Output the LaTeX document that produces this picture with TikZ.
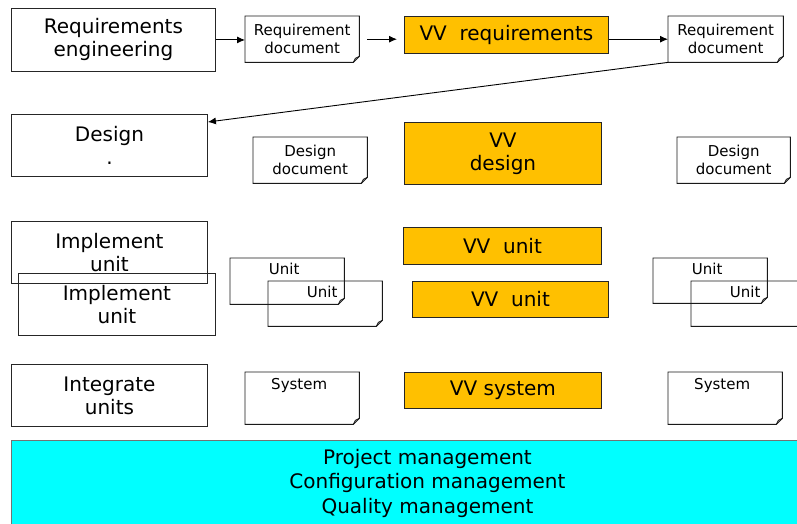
\documentclass[tikz,border=0pt]{standalone}
\usepackage{fontspec}
\setmainfont{DejaVu Sans}
\usetikzlibrary{arrows.meta}
\definecolor{vvorange}{HTML}{FFC000}
\definecolor{pmcyan}{HTML}{00FFFF}
\newcommand\notebox[1]{%
  \draw[noteline] (#1.north west) -- (#1.north east) -- ([yshift=6pt]#1.south east)
    -- ([xshift=-6pt]#1.south east) -- (#1.south west) -- cycle;
  \draw[noteline] ([yshift=6pt]#1.south east) -- ([xshift=-4pt,yshift=4pt]#1.south east)
    -- ([xshift=-6pt]#1.south east);}
\begin{document}
\begin{tikzpicture}[x=1pt,y=-1pt,
  big/.style={font=\fontsize{20}{23}\selectfont},
  small/.style={font=\fontsize{15}{18}\selectfont},
  box/.style={draw=black!85, line width=0.9pt, inner sep=0pt, anchor=north west, align=center, big},
  vvbox/.style={box, fill=vvorange},
  note/.style={inner sep=0pt, anchor=north west, align=center, small},
  noteline/.style={draw=black!90, line width=0.9pt},
  toplabel/.style={label={[anchor=north, small, yshift=-2pt, xshift=-3pt]north:#1}},
  arr/.style={draw=black, line width=0.9pt, -{Latex[length=8pt,width=7pt]}}]
\useasboundingbox (0,0) rectangle (797,524);
\clip (0,0) rectangle (797,524);
\fill[white] (0,0) rectangle (797,524);

% row 1
\node[box, minimum width=204pt, minimum height=63pt] (re) at (11,8) {Requirements\\engineering};
\node[note, minimum width=114pt, minimum height=46pt] (rd1) at (245,16) {Requirement\\document};
\notebox{rd1}
\node[vvbox, minimum width=204pt, minimum height=37pt] (vvr) at (404,16) {VV\ \ requirements};
\node[note, minimum width=115pt, minimum height=46pt] (rd2) at (668,16) {Requirement\\document};
\notebox{rd2}

% row 2
\node[box, minimum width=196pt, minimum height=62pt] (des) at (11,114) {Design\\.};
\node[note, minimum width=114pt, minimum height=46pt] (dd1) at (253,137) {Design\\document};
\notebox{dd1}
\node[vvbox, minimum width=197pt, minimum height=62pt] (vvd) at (404,122) {VV\\design};
\node[note, minimum width=113pt, minimum height=46pt] (dd2) at (677,137) {Design\\document};
\notebox{dd2}

% row 3
\node[box, minimum width=196pt, minimum height=62pt] (iu1) at (11,221) {Implement\\unit};
\node[box, minimum width=197pt, minimum height=62pt] (iu2) at (18,273) {Implement\\unit};
\node[note, minimum width=114pt, minimum height=46pt, toplabel=Unit] (u1) at (230,258) {};
\notebox{u1}
\node[note, minimum width=114pt, minimum height=45pt, toplabel=Unit] (u2) at (268,281) {};
\notebox{u2}
\node[vvbox, minimum width=198pt, minimum height=37pt] (vvu1) at (403,227) {VV\ \ unit};
\node[vvbox, minimum width=196pt, minimum height=36pt] (vvu2) at (412,281) {VV\ \ unit};
\node[note, minimum width=114pt, minimum height=45pt, toplabel=Unit] (u3) at (653,258) {};
\notebox{u3}
\node[note, minimum width=114pt, minimum height=45pt, toplabel=Unit] (u4) at (691,281) {};
\notebox{u4}

% row 4
\node[box, minimum width=196pt, minimum height=62pt] (int) at (11,364) {Integrate\\units};
\node[note, minimum width=114pt, minimum height=52pt, label={[anchor=north, small, yshift=-3pt, xshift=-3pt]north:System}] (sys1) at (245,372) {};
\notebox{sys1}
\node[vvbox, minimum width=197pt, minimum height=36pt] (vvs) at (404,372) {VV system};
\node[note, minimum width=114pt, minimum height=52pt, label={[anchor=north, small, yshift=-3pt, xshift=-3pt]north:System}] (sys2) at (668,372) {};
\notebox{sys2}

% management bar
\node[box, draw=black!55, fill=pmcyan, minimum width=832pt, minimum height=86pt, font=\fontsize{20}{24.5}\selectfont] (pm) at (11,440)
  {Project management\\Configuration management\\Quality management};

% connectors
\draw[arr] (re.east) -- (rd1.west |- re.east);
\draw[arr, shorten <=8pt, shorten >=7pt] (rd1.east) -- (rd1.east -| vvr.west);
\draw[arr] (vvr.east |- rd2.west) -- (rd2.west);
\draw[arr] (rd2.south west) -- ([yshift=-8pt]des.north east);
\end{tikzpicture}
\end{document}
